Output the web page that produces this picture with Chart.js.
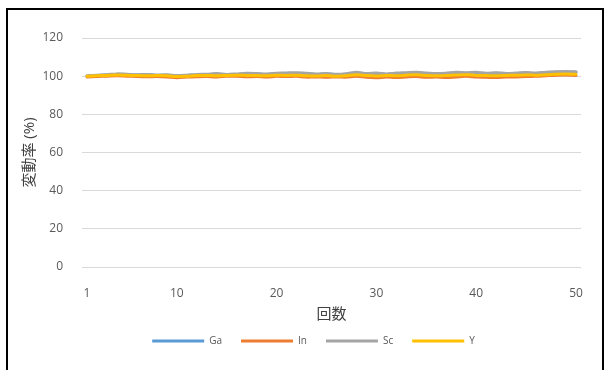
<!DOCTYPE html>
<html>
<head>
<meta charset="utf-8">
<script src="https://cdn.jsdelivr.net/npm/chart.js@4/dist/chart.umd.min.js"></script>
<style>
  html, body { margin: 0; padding: 0; background: #fff; }
  #wrap { position: relative; width: 611px; height: 370px; overflow: hidden; }
  #c { position: absolute; left: 0; top: 0; }
  #frame { position: absolute; left: 6px; top: 8px; width: 598px; height: 380px;
           border: 2px solid #000; pointer-events: none; box-sizing: border-box; }
</style>
</head>
<body>
<div id="wrap">
  <canvas id="c" width="611" height="370"></canvas>
  <div id="frame"></div>
</div>
<script>
// 測定回数 1〜50
const runs = Array.from({ length: 50 }, (_, i) => String(i + 1));

// 各元素の変動率 (%)
const ga = [100.0, 100.3, 100.6, 100.9, 100.8, 100.6, 100.7, 100.4, 100.5, 100.1,
            100.3, 100.6, 100.8, 101.1, 100.7, 100.9, 101.2, 101.1, 100.9, 101.2,
            101.3, 101.3, 101.1, 100.9, 101.1, 100.8, 101.0, 101.6, 101.1, 101.3,
            100.9, 101.3, 101.4, 101.6, 101.1, 101.1, 101.3, 101.7, 101.5, 101.7,
            101.2, 101.5, 101.1, 101.3, 101.6, 101.3, 101.8, 102.0, 102.1, 102.0];
const inn = [99.6, 99.8, 100.0, 100.2, 100.0, 99.8, 99.7, 99.8, 99.6, 99.2,
             99.5, 99.7, 99.8, 99.6, 99.9, 100.0, 99.7, 99.8, 99.6, 99.9,
             99.8, 99.9, 99.5, 99.6, 99.4, 99.6, 99.5, 100.0, 99.4, 99.2,
             99.5, 99.3, 99.6, 99.8, 99.4, 99.5, 99.3, 99.6, 99.9, 99.5,
             99.4, 99.3, 99.5, 99.6, 99.8, 99.9, 100.2, 100.5, 100.6, 100.4];
const sc = [100.2, 100.5, 100.8, 101.2, 101.0, 100.8, 100.9, 100.6, 100.7, 100.3,
            100.5, 100.9, 101.0, 101.4, 100.9, 101.2, 101.5, 101.4, 101.2, 101.5,
            101.7, 101.8, 101.5, 101.2, 101.4, 101.0, 101.3, 102.0, 101.4, 101.6,
            101.2, 101.6, 101.8, 102.0, 101.7, 101.4, 101.6, 102.0, 101.8, 102.0,
            101.5, 101.8, 101.4, 101.6, 101.9, 101.6, 102.1, 102.3, 102.4, 102.3];
const yy = [100.0, 100.2, 100.4, 100.6, 100.5, 100.3, 100.2, 100.3, 100.2, 99.8,
            100.0, 100.3, 100.4, 100.2, 100.4, 100.5, 100.4, 100.3, 100.2, 100.5,
            100.4, 100.5, 100.2, 100.1, 100.3, 100.0, 100.2, 100.7, 100.3, 100.1,
            100.4, 100.2, 100.5, 100.7, 100.4, 100.2, 100.3, 100.6, 100.8, 100.4,
            100.3, 100.2, 100.4, 100.5, 100.6, 100.5, 100.8, 101.0, 101.1, 101.0];

// 軸目盛
const yTicks = [0, 20, 40, 60, 80, 100, 120];
const xTickRuns = ['1', '10', '20', '30', '40', '50'];

const FONT = "'Open Sans', 'Noto Sans CJK JP', sans-serif";

function series(label, data, color, order) {
  return {
    label, data, order,
    borderColor: color, backgroundColor: color,
    borderWidth: 3, pointRadius: 0, tension: 0.3,
    borderCapStyle: 'round'
  };
}

new Chart(document.getElementById('c'), {
  type: 'line',
  data: {
    labels: runs,
    datasets: [
      series('Ga', ga, '#5B9BD5', 3),
      series('In', inn, '#ED7D31', 2),
      series('Sc', sc, '#A5A5A5', 1),
      series('Y', yy, '#FFC000', 0)
    ]
  },
  options: {
    responsive: false,
    animation: false,
    layout: { padding: { left: 46, right: 30, top: 38, bottom: 14 } },
    plugins: {
      tooltip: { enabled: false },
      legend: {
        position: 'bottom',
        labels: {
          boxWidth: 52, boxHeight: 3, padding: 19,
          color: '#595959',
          font: { family: FONT, size: 10 },
          sort: (a, b) => a.datasetIndex - b.datasetIndex,
          generateLabels(chart) {
            return Chart.defaults.plugins.legend.labels.generateLabels(chart)
              .map(l => Object.assign(l, { lineWidth: 0 }));
          }
        }
      }
    },
    scales: {
      x: {
        offset: true,
        grid: { display: false },
        border: { display: false },
        ticks: {
          autoSkip: false, maxRotation: 0, padding: 11,
          color: '#595959', font: { family: FONT, size: 12 },
          callback(v, i) {
            const l = runs[i];
            return xTickRuns.includes(l) ? l : null;
          }
        },
        title: { display: true, text: '回数', color: '#404040',
                 font: { family: FONT, size: 15 }, padding: { top: 0, bottom: -7 } },
        afterFit(s) { s.height = 50; }
      },
      y: {
        min: 0, max: 120,
        afterBuildTicks(s) { s.ticks = yTicks.map(v => ({ value: v })); },
        grid: { color: '#D9D9D9', lineWidth: 1, drawTicks: false },
        border: { display: false },
        ticks: { padding: 19, color: '#595959', font: { family: FONT, size: 12 } },
        title: { display: true, text: '変動率 (%)', color: '#404040',
                 font: { family: FONT, size: 15 }, padding: { top: -25, bottom: 0 } },
        afterFit(s) {
          s.width = 36;
          // let the tick labels extend left of the narrow axis box
          s._computeLabelArea = () => undefined;
        }
      }
    }
  }
});
</script>
</body>
</html>
